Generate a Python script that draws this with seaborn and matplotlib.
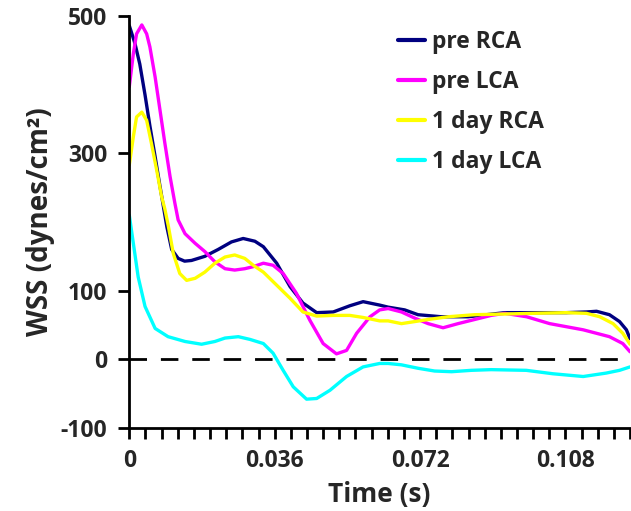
import numpy as np
import pandas as pd
import seaborn as sns
import matplotlib
matplotlib.use("Agg")
import matplotlib.pyplot as plt
from matplotlib.ticker import MultipleLocator, FixedLocator

# ---------------- data ----------------
series_names = ["pre RCA", "pre LCA", "1 day RCA", "1 day LCA"]
series_colors = ["#000080", "#ff00ff", "#ffff00", "#00ffff"]

t_pre_rca = [0, .0014, .0026, .0039, .0051, .0064, .0076, .0093, .0105, .0121, .0137, .0154,
             .0187, .0220, .0253, .0282, .0311, .0332, .0365, .0398, .0430, .0464, .0505,
             .0546, .0579, .0620, .0641, .0682, .0715, .0773, .0839, .0930, .0999, .1082,
             .1132, .1157, .1189, .1214, .1231, .124]
v_pre_rca = [486, 460, 430, 385, 340, 295, 252, 193, 160, 147, 143, 144,
             150, 160, 171, 176, 172, 164, 140, 106, 82, 68, 69,
             78, 84, 79, 76, 72, 65, 62, 62, 68, 68, 68,
             69, 70, 65, 55, 43, 30]

t_pre_lca = [0, .0010, .0018, .0031, .0043, .0051, .0064, .0076, .0088, .0101, .0113, .0121,
             .0138, .0163, .0187, .0212, .0237, .0261, .0286, .0307, .0332, .0356, .0381,
             .0414, .0447, .0480, .0513, .0538, .0563, .0596, .0620, .0641, .0674, .0707,
             .0740, .0777, .0814, .0855, .0896, .0930, .0984, .1041, .1124, .1189, .1222, .124]
v_pre_lca = [397, 445, 474, 487, 474, 455, 411, 363, 315, 266, 227, 203,
             183, 169, 157, 142, 132, 130, 132, 135, 140, 137, 125,
             96, 57, 23, 8, 13, 38, 62, 72, 74, 69, 60,
             52, 46, 52, 58, 64, 67, 62, 52, 43, 33, 23, 11]

t_day_rca = [0, .0010, .0018, .0031, .0043, .0055, .0068, .0080, .0088, .0097, .0109, .0125,
             .0142, .0163, .0187, .0212, .0237, .0261, .0286, .0307, .0332, .0365, .0398,
             .0430, .0464, .0505, .0546, .0579, .0620, .0641, .0674, .0707, .0740, .0789,
             .0855, .0930, .0999, .1082, .1132, .1165, .1198, .1222, .124]
v_day_rca = [283, 324, 353, 360, 348, 314, 275, 237, 219, 193, 154, 125,
             115, 118, 127, 140, 149, 152, 147, 137, 127, 108, 89,
             69, 63, 64, 64, 61, 56, 56, 52, 55, 58, 62,
             65, 66, 67, 68, 67, 62, 52, 38, 22]

t_day_lca = [0, .0010, .0022, .0039, .0064, .0096, .0138, .0179, .0212, .0237, .0270, .0299,
             .0332, .0356, .0381, .0406, .0439, .0464, .0497, .0538, .0579, .0620, .0641,
             .0674, .0715, .0756, .0798, .0847, .0896, .0983, .1049, .1124, .1181, .1214, .124]
v_day_lca = [210, 169, 120, 77, 45, 33, 26, 22, 26, 31, 33, 29,
             23, 9, -16, -40, -58, -57, -45, -25, -11, -6, -6,
             -8, -13, -17, -18, -16, -15, -16, -21, -25, -20, -16, -11]

x_major_ticks = [0, 0.036, 0.072, 0.108]
x_major_labels = ["0", "0.036", "0.072", "0.108"]
y_ticks = [-100, 0, 100, 300, 500]
y_tick_labels = ["-100", "0", "100", "300", "500"]

# ---------------- build long-form table ----------------
frames = []
for name, t, v in zip(series_names,
                      [t_pre_rca, t_pre_lca, t_day_rca, t_day_lca],
                      [v_pre_rca, v_pre_lca, v_day_rca, v_day_lca]):
    frames.append(pd.DataFrame({"Time": t, "WSS": v, "series": name}))
df = pd.concat(frames, ignore_index=True)

# ---------------- style ----------------
sns.set_style("ticks")
plt.rcParams["font.family"] = ["Open Sans", "DejaVu Sans"]
plt.rcParams["font.weight"] = "bold"

fig = plt.figure(figsize=(6.31, 5.11), dpi=100)
ax = fig.add_axes([0.2049, 0.1624, 0.7936, 0.8063])

sns.lineplot(data=df, x="Time", y="WSS", hue="series", hue_order=series_names,
             palette=dict(zip(series_names, series_colors)), estimator=None,
             sort=True, linewidth=2.4, ax=ax)

ax.axhline(0, color="black", linewidth=2.0, dashes=(6.3, 5.0), zorder=1)

ax.set_xlim(0, 0.124)
ax.set_ylim(-100, 500)
ax.xaxis.set_major_locator(FixedLocator(x_major_ticks))
ax.set_xticklabels(x_major_labels)
ax.xaxis.set_minor_locator(MultipleLocator(0.004))
ax.set_yticks(y_ticks)
ax.set_yticklabels(y_tick_labels)

for s in ["top", "right"]:
    ax.spines[s].set_visible(False)
for s in ["left", "bottom"]:
    ax.spines[s].set_linewidth(2.0)
    ax.spines[s].set_color("black")

ax.tick_params(axis="both", which="both", direction="out", length=8, width=2,
               color="black", labelsize=16.5)
ax.tick_params(axis="y", pad=8)
ax.tick_params(axis="x", pad=7)
for lab in ax.get_xticklabels() + ax.get_yticklabels():
    lab.set_fontweight("bold")

ax.set_xlabel("Time (s)", fontsize=19, fontweight="bold", labelpad=6)
ax.set_ylabel("WSS (dynes/cm²)", fontsize=20, fontweight="bold", labelpad=4)

leg = ax.legend(loc="upper left", bbox_to_anchor=(398 / 631, 1 - 30 / 511),
                bbox_transform=fig.transFigure, frameon=False, fontsize=16.5,
                handlelength=1.2, handletextpad=0.3, labelspacing=0.7, borderpad=0,
                borderaxespad=0)
for line in leg.get_lines():
    line.set_linewidth(3)
for txt in leg.get_texts():
    txt.set_fontweight("bold")

fig.savefig("out.png", dpi=100)
